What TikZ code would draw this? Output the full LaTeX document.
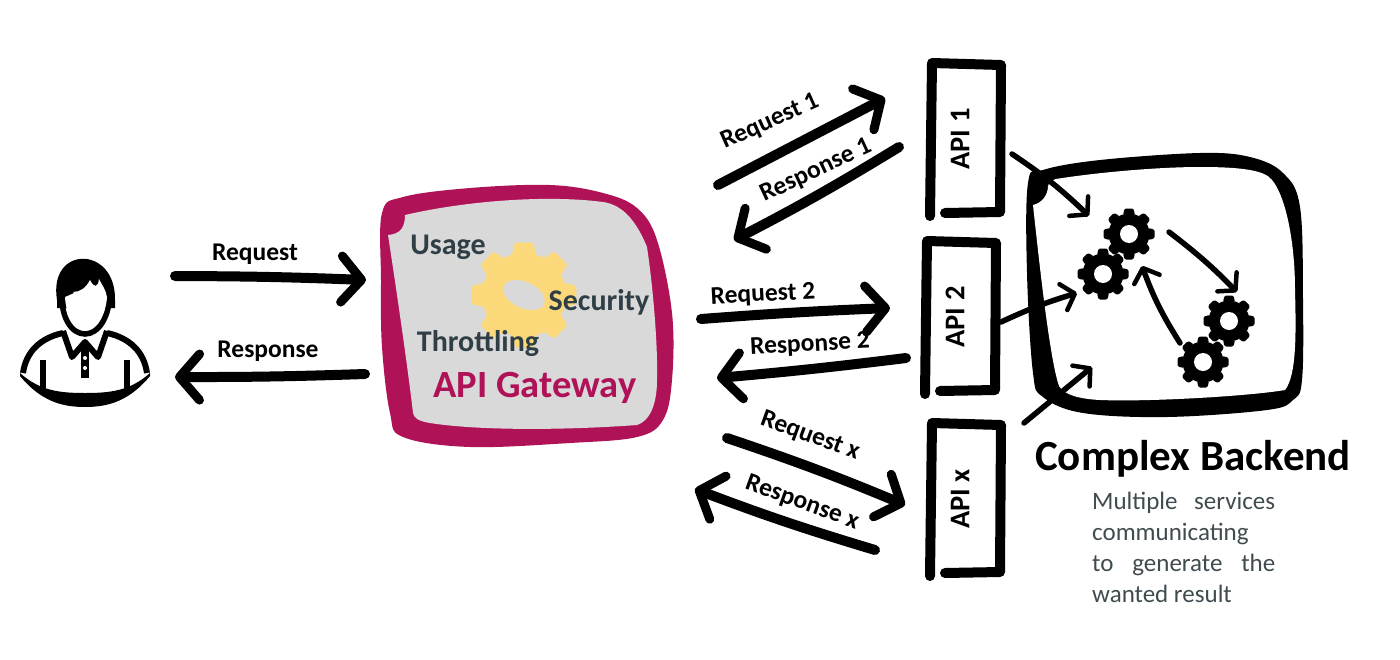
\documentclass[tikz,border=0pt]{standalone}
\usepackage{fontspec}
\setmainfont{Carlito}
\usetikzlibrary{arrows.meta}
\usetikzlibrary{shapes.geometric}
\definecolor{gatewayred}{HTML}{B01257}
\definecolor{gatewaygrey}{HTML}{D9D9D9}
\definecolor{cogyellow}{HTML}{FBD97A}
\definecolor{slatetext}{HTML}{2F3F45}
\definecolor{greytext}{HTML}{404B50}
\tikzstyle{bigline} = [draw, line width=10pt, line cap=round,
-{Straight Barb[length=20pt,width=46pt,line width=9pt,round]}]
\tikzstyle{smallline} = [draw, line width=5.5pt, line cap=round,
-{Straight Barb[length=12pt,width=27pt,line width=4.5pt,round]}]
\tikzstyle{reqlabel} = [font=\fontsize{25.5}{30}\selectfont\bfseries, inner sep=0pt]
\tikzstyle{featlabel} = [font=\fontsize{30}{36}\selectfont\bfseries, text=slatetext, inner sep=0pt]

\begin{document}
\begin{tikzpicture}[x=1pt,y=-1pt,
        cognode/.style={circle, fill=white, minimum size=18pt, inner sep=0pt},
        pics/cog/.style={code={
            \fill[#1] (0,0) circle (20.5);
            \foreach \a in {0,45,...,315}
                \fill[#1,rotate=\a,rounded corners=1.5pt] (-6,-19) -- (-4.5,-25.5) -- (4.5,-25.5) -- (6,-19) -- cycle;
        }},
        pics/apibox/.style={code={
            \draw[line width=10pt,line cap=round,line join=round] (-21,75) -- (34,74) -- (35,-73) -- (-34,-75) -- (-35,0) -- (-36,78);
            \node[font=\fontsize{28.5}{34}\selectfont\bfseries, rotate=90, inner sep=0pt] (-label) at (-6,1) {#1};
        }}]
        \useasboundingbox (0,0) rectangle (1400,659);
        %% Gateway
        \fill[gatewayred] plot[smooth cycle, tension=0.6] coordinates {(382,213) (403,197) (470,188) (550,185) (603,193) (637,208) (657,240) (672,313) (672,380) (663,420) (637,437) (570,443) (470,447) (403,437) (390,413) (382,347) (381,280)};
        \fill[gatewaygrey] (388,235) .. controls (400,234) and (405,228) .. (405,215) .. controls (470,200) and (550,195) .. (603,202) .. controls (625,205) and (638,225) .. (647,247) .. controls (652,280) and (658,340) .. (657,380) .. controls (657,400) and (652,420) .. (637,425) .. controls (570,430) and (480,431) .. (430,423) .. controls (418,421) and (414,418) .. (413,413) .. controls (408,370) and (398,300) .. (388,235) -- cycle;
        \pic at (524,295) [scale=2.05] {cog=cogyellow};
        \node[ellipse, fill=gatewaygrey, rotate=-25, minimum width=44pt, minimum height=26pt, inner sep=0pt] (coghole) at (524,295) {};
        \node[featlabel] (usage) at (448,247) {Usage};
        \node[featlabel] (security) at (599,302) {Security};
        \node[featlabel] (throttling) at (478,344) {Throttling};
        \node[font=\fontsize{38.5}{46}\selectfont\bfseries, text=gatewayred, inner sep=0pt] (gateway) at (535,388) {API Gateway};
        %% User
        \fill (57,300) .. controls (48,245) and (116,245) .. (115,300) -- (115,308) -- (57,308) -- cycle;
        \draw[line width=5.5pt] (62,290) .. controls (60,318) and (72,334) .. (85,334) .. controls (98,334) and (110,318) .. (110,290);
        \fill[white] (65,297) .. controls (72,294) and (77,292) .. (73,292) .. controls (80,292) and (86,288) .. (90,280) .. controls (94,288) and (98,288) .. (99,279) .. controls (102,285) and (106,290) .. (107,297) .. controls (106,315) and (96,329.5) .. (85,329.5) .. controls (74,329.5) and (66,315) .. (65,297) -- cycle;
        \draw[line width=6pt,line join=round] (63,331) -- (72,357) -- (85,342) -- (98,357) -- (107,331);
        \draw[line width=6pt] (63,333) .. controls (40,338) and (26,352) .. (23,373);
        \draw[line width=6pt] (107,333) .. controls (130,338) and (144,352) .. (147,373);
        \fill (20,373) .. controls (40,391) and (60,393) .. (85,393) .. controls (110,393) and (130,391) .. (150,373) -- (150,376) .. controls (130,400) and (110,407) .. (85,407) .. controls (60,407) and (40,400) .. (20,376) -- cycle;
        \draw[line width=6pt] (43,360) -- (43,388) (127,360) -- (127,388);
        \fill (81,343) rectangle (89,378);
        \fill[white] (85,358) circle (2) (85,368) circle (2);
        %% API boxes
        \pic (apione) at (966,138) {apibox={API 1}};
        \pic (apitwo) at (961,316) {apibox={API 2}};
        \pic (apix) at (966,498) {apibox={API x}};
        %% Backend
        \fill plot[smooth cycle, tension=0.6] coordinates {(1028,183) (1043,170) (1100,160) (1200,153) (1250,157) (1283,173) (1300,207) (1303,300) (1302,380) (1293,400) (1267,410) (1167,417) (1083,413) (1043,397) (1033,373) (1027,273)};
        \fill[white] (1033,205) .. controls (1042,203) and (1048,195) .. (1048,186) .. controls (1050,180) and (1053,180) .. (1056,179) .. controls (1100,172) and (1160,167) .. (1200,167) .. controls (1240,167) and (1265,170) .. (1272,180) .. controls (1285,195) and (1295,240) .. (1295,290) .. controls (1296,330) and (1297,375) .. (1285,390) .. controls (1250,396) and (1150,402) .. (1100,400) .. controls (1080,399) and (1064,395) .. (1059,386) .. controls (1050,360) and (1040,270) .. (1033,205) -- cycle;
        \foreach \n/\x/\y in {a/1129/234,b/1103/274,c/1229/321,d/1203/362} {
            \pic at (\x,\y) {cog=black};
            \node[cognode] (gear\n) at (\x,\y) {};
        }
        %% Ends of the arcs
        \coordinate (reqS) at (175,276);
        \coordinate (reqE) at (366,280);
        \coordinate (resS) at (365,374);
        \coordinate (resE) at (175,377);
        \coordinate (reqoneS) at (718,185);
        \coordinate (reqoneE) at (885,98);
        \coordinate (resoneS) at (899,147);
        \coordinate (resoneE) at (734,240);
        \coordinate (reqtwoS) at (701,319);
        \coordinate (reqtwoE) at (890,308);
        \coordinate (restwoS) at (906,358);
        \coordinate (restwoE) at (717,378);
        \coordinate (reqxS) at (727,438);
        \coordinate (reqxE) at (905,505);
        \coordinate (resxS) at (875,550);
        \coordinate (resxE) at (695,489);
        \coordinate (apioneS) at (1012,154);
        \coordinate (apioneE) at (1089,216);
        \coordinate (apitwoS) at (1001,322);
        \coordinate (apitwoE) at (1077,293);
        \coordinate (apixS) at (1024,423);
        \coordinate (apixE) at (1092,367);
        \coordinate (gearoneS) at (1169,232);
        \coordinate (gearoneE) at (1237,292);
        \coordinate (geartwoS) at (1180,343);
        \coordinate (geartwoE) at (1142,266);
        %% Arcs
        \path [bigline] (reqS) to [bend left=1] (reqE);
        \path [bigline] (resS) to [bend left=1] (resE);
        \path [bigline] (reqoneS) to (reqoneE);
        \path [bigline] (resoneS) to [bend left=2] (resoneE);
        \path [bigline] (reqtwoS) to [bend left=1] (reqtwoE);
        \path [bigline] (restwoS) to [bend left=1] (restwoE);
        \path [bigline] (reqxS) to [bend left=2] (reqxE);
        \path [bigline] (resxS) to [bend left=2] (resxE);
        \path [smallline] (apioneS) to [bend left=5] (apioneE);
        \path [smallline] (apitwoS) to [bend left=4] (apitwoE);
        \path [smallline] (apixS) to (apixE);
        \path [smallline] (gearoneS) to [bend left=4] (gearoneE);
        \path [smallline] (geartwoS) to [bend left=6] (geartwoE);
        %% Arc labels
        \node[reqlabel] (reqtext) at (255,254) {Request};
        \node[reqlabel] (restext) at (268,351) {Response};
        \node[reqlabel, rotate=24] (reqonetext) at (770,122) {Request 1};
        \node[reqlabel, rotate=25] (resonetext) at (816,171) {Response 1};
        \node[reqlabel, rotate=3] (reqtwotext) at (763,295) {Request 2};
        \node[reqlabel, rotate=3] (restwotext) at (810,345) {Response 2};
        \node[reqlabel, rotate=-20] (reqxtext) at (810,436) {Request x};
        \node[reqlabel, rotate=-20] (resxtext) at (802,503) {Response x};
        %% Caption
        \node[font=\fontsize{43}{50}\selectfont\bfseries, inner sep=0pt] (backend) at (1193,459) {Complex Backend};
        \node[font=\fontsize{25}{31}\selectfont, text=greytext, align=left, anchor=north west, inner sep=0pt] (backendtext) at (1092,492) {\makebox[183pt][s]{Multiple services}\\communicating\\\makebox[183pt][s]{to generate the}\\wanted result};
    \end{tikzpicture}
\end{document}
